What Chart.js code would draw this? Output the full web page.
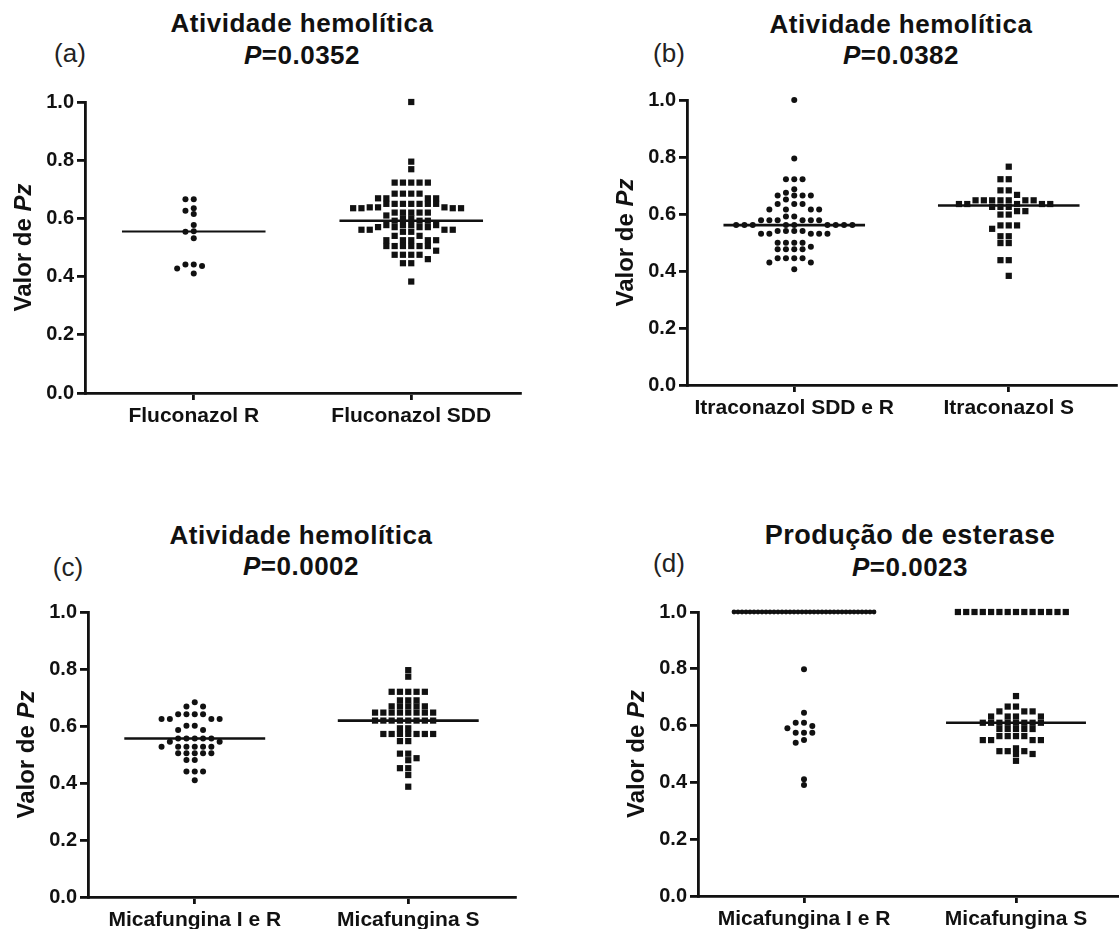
<!DOCTYPE html>
<html>
<head>
<meta charset="utf-8">
<script src="https://cdn.jsdelivr.net/npm/chart.js"></script>
<style>
  body { margin: 0; width: 1119px; height: 929px; overflow: hidden; background: #fff; position: relative; }
  .t { position: absolute; transform: translate(-50%, -50%); white-space: nowrap; color: #111;
       font-family: "Liberation Sans", Arial, sans-serif; font-weight: bold; letter-spacing: 0.5px; }
  .lab { position: absolute; transform: translate(-50%, -50%); white-space: nowrap; color: #222;
       font-family: "Liberation Sans", Arial, sans-serif; font-size: 26px; }
</style>
</head>
<body>
<script>
// categories
const catsA = ['Fluconazol R', 'Fluconazol SDD'];
const catsB = ['Itraconazol SDD e R', 'Itraconazol S'];
const catsC = ['Micafungina I e R', 'Micafungina S'];
const catsD = ['Micafungina I e R', 'Micafungina S'];

// (a) hemolytic activity by fluconazole group
const flucR = [0.666, 0.666, 0.635, 0.626, 0.615, 0.577, 0.556, 0.554, 0.532,
  0.442, 0.442, 0.436, 0.428, 0.411];
const flucSDD = [1.0, 0.795, 0.769,
  0.723, 0.723, 0.723, 0.723, 0.723,
  0.685, 0.685, 0.685, 0.685,
  0.669, 0.669, 0.669, 0.669,
  0.65, 0.65, 0.65, 0.65, 0.65, 0.65, 0.65,
  0.638, 0.638, 0.638,
  0.635, 0.635, 0.635, 0.635,
  0.62, 0.62, 0.62, 0.62, 0.62,
  0.61, 0.60, 0.60,
  0.592, 0.592, 0.592,
  0.577, 0.577, 0.577, 0.577,
  0.57, 0.57, 0.57, 0.57,
  0.561, 0.561, 0.561, 0.561,
  0.554, 0.554, 0.54, 0.54,
  0.525, 0.525, 0.525, 0.525, 0.525,
  0.505, 0.505, 0.505, 0.505, 0.505, 0.505,
  0.489, 0.475, 0.475, 0.475, 0.475,
  0.46, 0.446, 0.446, 0.383];

// (b) hemolytic activity by itraconazole group
const itraSDDR = [1.0, 0.795, 0.722, 0.722, 0.722, 0.687, 0.675,
  0.665, 0.665, 0.665, 0.665, 0.651,
  0.635, 0.635, 0.635, 0.616, 0.616, 0.616, 0.616,
  0.591, 0.591,
  0.578, 0.578, 0.578, 0.578, 0.578, 0.578,
  0.561, 0.561, 0.561, 0.561, 0.561, 0.561, 0.561, 0.561, 0.561,
  0.54, 0.54, 0.54, 0.54,
  0.531, 0.531, 0.531, 0.531, 0.531,
  0.499, 0.499, 0.499, 0.499, 0.485,
  0.476, 0.476, 0.476, 0.476,
  0.445, 0.445, 0.445, 0.445, 0.43, 0.43, 0.406];
const itraS = [0.766, 0.722, 0.722, 0.683, 0.683, 0.667,
  0.648, 0.648, 0.648, 0.648, 0.648, 0.648, 0.648,
  0.635, 0.635, 0.635, 0.635, 0.635,
  0.625, 0.625, 0.625, 0.61, 0.61, 0.598, 0.598,
  0.56, 0.56, 0.56, 0.548, 0.522, 0.522, 0.498, 0.498,
  0.438, 0.438, 0.383];

// (c) hemolytic activity by micafungin group
const micaHemoIR = [0.683, 0.668, 0.668,
  0.641, 0.641, 0.641, 0.641, 0.625, 0.625, 0.625, 0.625,
  0.601, 0.601, 0.586, 0.586,
  0.556, 0.556, 0.556, 0.556, 0.556, 0.545, 0.545,
  0.527, 0.527, 0.527, 0.527, 0.527, 0.527,
  0.504, 0.504, 0.504, 0.504, 0.504,
  0.481, 0.481, 0.44, 0.44, 0.44, 0.41];
const micaHemoS = [0.796, 0.773, 0.72, 0.72, 0.72, 0.72, 0.72,
  0.69, 0.69, 0.69, 0.669, 0.669, 0.669, 0.669, 0.669,
  0.647, 0.647, 0.647, 0.647, 0.647, 0.647, 0.647, 0.647,
  0.619, 0.619, 0.619, 0.619, 0.619, 0.619, 0.619, 0.619,
  0.592, 0.592,
  0.572, 0.572, 0.572, 0.572, 0.572, 0.572, 0.572,
  0.547, 0.547, 0.503, 0.503, 0.487, 0.48, 0.452, 0.452, 0.428, 0.387];

// (d) esterase production by micafungin group
const micaEstIR = [1.0, 1.0, 1.0, 1.0, 1.0, 1.0, 1.0, 1.0, 1.0, 1.0, 1.0, 1.0,
  1.0, 1.0, 1.0, 1.0, 1.0, 1.0, 1.0, 1.0, 1.0, 1.0, 1.0, 1.0,
  1.0, 1.0, 1.0, 1.0, 1.0, 1.0, 1.0, 1.0, 1.0, 1.0, 1.0, 1.0,
  0.798, 0.645, 0.61, 0.61, 0.599, 0.591, 0.575, 0.575, 0.575, 0.549, 0.54, 0.411, 0.391];
const micaEstS = [1.0, 1.0, 1.0, 1.0, 1.0, 1.0, 1.0, 1.0, 1.0, 1.0, 1.0, 1.0, 1.0, 1.0,
  0.704, 0.667, 0.667, 0.65, 0.65, 0.65,
  0.632, 0.632, 0.632, 0.632,
  0.61, 0.61, 0.61, 0.61, 0.61, 0.61, 0.61, 0.61,
  0.588, 0.588, 0.588, 0.588, 0.588,
  0.563, 0.563, 0.563, 0.563, 0.549, 0.549, 0.549, 0.549,
  0.52, 0.51, 0.51, 0.51, 0.5, 0.5, 0.476];

const yTicks = [0, 0.2, 0.4, 0.6, 0.8, 1.0];
const titles = ['Atividade hemolítica', 'Atividade hemolítica', 'Atividade hemolítica', 'Produção de esterase'];
const pValues = ['0.0352', '0.0382', '0.0002', '0.0023'];
const panelTags = ['(a)', '(b)', '(c)', '(d)'];

const FONT = '"Liberation Sans", Arial, sans-serif';
const INK = '#111';
const PITCH = 8.3;     // horizontal spacing of symbols, px
const PITCH_Y = 5.5;   // vertical distance below which symbols may not share a column, px
const MAX_ROW = 140;   // widest a row of tied values may get, px
const HALF = 0.33;     // half width of the median bar, in category units

Chart.defaults.font.family = FONT;

// column beeswarm: values -> {x, y, r} in data units
function swarm(values, center, pxX, pxY, r) {
  const counts = {};
  values.forEach(v => { counts[v] = (counts[v] || 0) + 1; });
  const sorted = values.slice().sort((a, b) => b - a);
  const placed = [], out = [], done = {};
  sorted.forEach(v => {
    const n = counts[v];
    const py = v * pxY;
    if ((n - 1) * PITCH > MAX_ROW) {
      if (done[v]) return;
      done[v] = true;
      const step = MAX_ROW / (n - 1);
      for (let k = 0; k < n; k++) {
        const dx = (k - (n - 1) / 2) * step;
        placed.push({ dx, py });
        out.push({ x: center + dx / pxX, y: v, r: r * 0.8 });
      }
      return;
    }
    for (let k = 0; k < 200; k++) {
      const col = k === 0 ? 0 : (k % 2 ? -Math.ceil(k / 2) : k / 2);
      const dx = col * PITCH;
      const free = placed.every(p => Math.abs(p.dx - dx) >= PITCH - 0.01 || Math.abs(p.py - py) >= PITCH_Y);
      if (free) {
        placed.push({ dx, py });
        out.push({ x: center + dx / pxX, y: v, r });
        break;
      }
    }
  });
  return out;
}

function median(vals) {
  const s = vals.slice().sort((a, b) => a - b);
  const m = s.length / 2;
  return s.length % 2 ? s[Math.floor(m)] : (s[m - 1] + s[m]) / 2;
}

const yTitle = {
  id: 'yTitle',
  afterDraw(chart) {
    const { ctx, chartArea: a } = chart;
    const parts = [['bold 24px ' + FONT, 'Valor de '], ['italic bold 24px ' + FONT, 'Pz']];
    ctx.save();
    ctx.translate(a.left - 61, (a.top + a.bottom) / 2);
    ctx.rotate(-Math.PI / 2);
    ctx.fillStyle = INK;
    ctx.textBaseline = 'middle';
    let total = 0;
    parts.forEach(p => { ctx.font = p[0]; total += ctx.measureText(p[1]).width; });
    let x = -total / 2;
    parts.forEach(p => { ctx.font = p[0]; ctx.fillText(p[1], x, 0); x += ctx.measureText(p[1]).width; });
    ctx.restore();
  }
};

const panels = [
  { L: 85, T: 102, R: 520, B: 393, cats: catsA, groups: [flucR, flucSDD], styles: ['circle', 'rect'], lw: [1.8, 2.6],
    txt: { cx: 302, lx: 70, y1: 23, y2: 55, ly: 53, fs: 26 } },
  { L: 687, T: 100, R: 1116, B: 385, cats: catsB, groups: [itraSDDR, itraS], styles: ['circle', 'rect'], lw: [2.6, 2.6],
    txt: { cx: 901, lx: 669, y1: 24, y2: 55, ly: 53, fs: 26 } },
  { L: 88, T: 612, R: 515, B: 897, cats: catsC, groups: [micaHemoIR, micaHemoS], styles: ['circle', 'rect'], lw: [2.6, 2.6],
    txt: { cx: 301, lx: 68, y1: 535, y2: 566, ly: 567, fs: 26 } },
  { L: 698, T: 612, R: 1122, B: 896, cats: catsD, groups: [micaEstIR, micaEstS], styles: ['circle', 'rect'], lw: [2.6, 2.6],
    txt: { cx: 910, lx: 669, y1: 535, y2: 567, ly: 563, fs: 27 } }
];

function addText(cls, html, x, y, size) {
  const d = document.createElement('div');
  d.className = cls;
  d.innerHTML = html;
  d.style.left = x + 'px';
  d.style.top = y + 'px';
  if (size) d.style.fontSize = size + 'px';
  document.body.appendChild(d);
}

panels.forEach((p, i) => {
  addText('t', titles[i], p.txt.cx, p.txt.y1, p.txt.fs);
  addText('t', '<i>P</i>=' + pValues[i], p.txt.cx, p.txt.y2, 26);
  addText('lab', panelTags[i], p.txt.lx, p.txt.ly);

  const cw = p.R - p.L + 90, ch = p.B - p.T + 60;
  const cv = document.createElement('canvas');
  cv.width = cw; cv.height = ch;
  cv.style.cssText = `position:absolute;left:${p.L - 80}px;top:${p.T - 20}px;width:${cw}px;height:${ch}px`;
  document.body.appendChild(cv);

  const pxX = (p.R - p.L) / 2, pxY = p.B - p.T;
  const datasets = [];
  p.groups.forEach((vals, g) => {
    const c = g + 1;
    const r = p.styles[g] === 'rect' ? 4.4 : 3;
    datasets.push({
      data: swarm(vals, c, pxX, pxY, r),
      pointStyle: p.styles[g],
      pointRadius: ctx => ctx.raw ? ctx.raw.r : r,
      pointHoverRadius: ctx => ctx.raw ? ctx.raw.r : r,
      backgroundColor: INK, borderWidth: 0, clip: false
    });
    const m = median(vals);
    datasets.push({
      data: [{ x: c - HALF, y: m }, { x: c + HALF, y: m }],
      showLine: true, pointRadius: 0, borderColor: INK, borderWidth: p.lw[g], clip: false
    });
  });

  const axisGrid = len => ({ display: true, drawOnChartArea: false, drawTicks: true, tickLength: len, color: INK, lineWidth: 2.8 });

  new Chart(cv, {
    type: 'scatter',
    data: { datasets },
    options: {
      responsive: false, animation: false, devicePixelRatio: 1,
      layout: { padding: { left: 0, top: 20, right: 10, bottom: 0 } },
      plugins: { legend: { display: false }, tooltip: { enabled: false } },
      scales: {
        x: {
          type: 'linear', min: 0.5, max: 2.5,
          afterBuildTicks: s => { s.ticks = [{ value: 1 }, { value: 2 }]; },
          afterFit: s => { s.height = 40; },
          ticks: { callback: (v, k) => p.cats[k], color: INK, padding: 4, maxRotation: 0, autoSkip: false,
                   font: { size: 21, weight: 'bold' } },
          grid: axisGrid(7),
          border: { display: true, color: INK, width: 2.8 }
        },
        y: {
          min: 0, max: 1,
          afterBuildTicks: s => { s.ticks = yTicks.map(v => ({ value: v })); },
          afterFit: s => { s.width = 80; },
          ticks: { callback: v => v.toFixed(1), color: INK, padding: 3, font: { size: 20, weight: 'bold' } },
          grid: axisGrid(8),
          border: { display: true, color: INK, width: 2.8 }
        }
      }
    },
    plugins: [yTitle]
  });
});
</script>
</body>
</html>
